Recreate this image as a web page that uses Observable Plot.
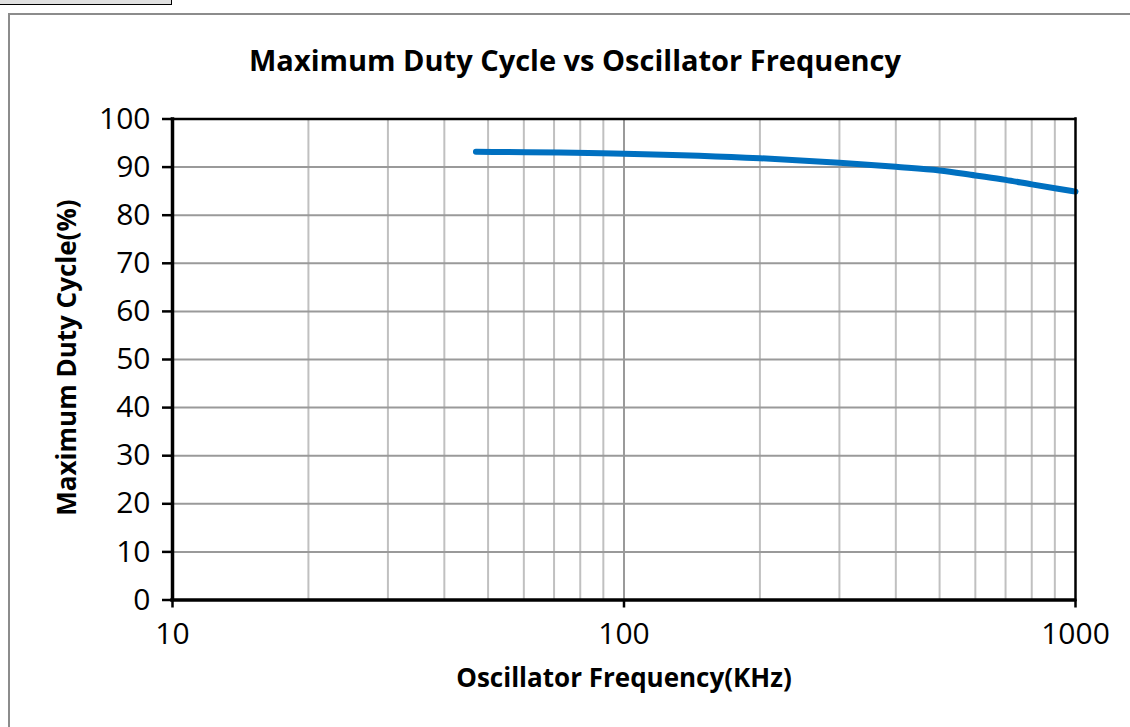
<!DOCTYPE html>
<html>
<head>
<meta charset="utf-8">
<script src="https://cdn.jsdelivr.net/npm/d3@7"></script>
<script src="https://cdn.jsdelivr.net/npm/@observablehq/plot@0.6"></script>
<style>
  html, body { margin: 0; padding: 0; background: #fff; overflow: hidden; }
  #page { position: relative; width: 1130px; height: 727px; overflow: hidden; font-family: "Open Sans", sans-serif; }
  #tab { position: absolute; left: -2px; top: -2px; width: 172px; height: 4.5px; background: #e0e0e0; border: 1.5px solid #000; }
  #frame { position: absolute; left: 8px; top: 12.5px; width: 1140px; height: 740px; border: 2px solid #8c8c8c; box-sizing: border-box; }
  #title { position: absolute; left: 10px; width: 1130px; top: 45px; text-align: center; font-weight: bold; font-size: 29px; line-height: 29px; color: #000; }
  #chart { position: absolute; left: 0; top: 90px; }
</style>
</head>
<body>
<div id="page">
  <div id="tab"></div>
  <div id="frame"></div>
  <div id="title">Maximum Duty Cycle vs Oscillator Frequency</div>
  <div id="chart"></div>
</div>
<script>
const title = "Maximum Duty Cycle vs Oscillator Frequency";
const xLabel = "Oscillator Frequency(KHz)";
const yLabel = "Maximum Duty Cycle(%)";

const freq = [47, 100, 200, 300, 400, 500, 600, 700, 800, 900, 1000];
const duty = [93.2, 92.8, 91.85, 90.9, 90.05, 89.3, 88.25, 87.35, 86.4, 85.6, 84.9];

const xTicks = [10, 100, 1000];
const xMinor = [20, 30, 40, 50, 60, 70, 80, 90, 200, 300, 400, 500, 600, 700, 800, 900];
const yTicks = [0, 10, 20, 30, 40, 50, 60, 70, 80, 90, 100];

const data = freq.map((f, i) => ({f, d: duty[i]}));

const chart = Plot.plot({
  width: 1130,
  height: 637,
  marginTop: 28.5,
  marginLeft: 172,
  marginRight: 55,
  marginBottom: 127.5,
  x: {type: "log", domain: [10, 1000]},
  y: {domain: [0, 100]},
  style: {fontFamily: "Open Sans", fontSize: "30px", color: "#000", background: "transparent", overflow: "visible"},
  marks: [
    Plot.ruleX(xMinor, {stroke: "#c0c0c0", strokeWidth: 2}),
    Plot.ruleX([100], {stroke: "#9a9a9a", strokeWidth: 2}),
    Plot.ruleY(yTicks.slice(1, -1), {stroke: "#9a9a9a", strokeWidth: 2}),
    Plot.line(data, {x: "f", y: "d", stroke: "#0070C0", strokeWidth: 6, strokeLinecap: "round", strokeLinejoin: "round", curve: "monotone-x"}),
    Plot.axisY(yTicks, {tickSize: 10, tickPadding: 12, strokeWidth: 2.5, label: null, tickFormat: d => String(d)}),
    Plot.axisX(xTicks, {tickSize: 8, tickPadding: 14.5, strokeWidth: 2.5, label: null, tickFormat: d => String(d)}),
    Plot.ruleY([100], {stroke: "#000", strokeWidth: 2.5, insetLeft: -1.5, insetRight: -1.25}),
    Plot.ruleX([1000], {stroke: "#000", strokeWidth: 2.5, insetTop: -1.25, insetBottom: -1.5}),
    Plot.ruleX([10], {stroke: "#000", strokeWidth: 3.5, insetTop: -1.25, insetBottom: -1.75}),
    Plot.ruleY([0], {stroke: "#000", strokeWidth: 3.5, insetLeft: -1.75, insetRight: -1.25}),
    Plot.text([yLabel], {frameAnchor: "left", dx: -105, dy: -2, rotate: -90, textAnchor: "middle", lineAnchor: "middle", fontWeight: "bold", fontSize: 26, fill: "#000"}),
    Plot.text([xLabel], {frameAnchor: "bottom", dy: 79, textAnchor: "middle", lineAnchor: "middle", fontWeight: "bold", fontSize: 26, fill: "#000"})
  ]
});
document.getElementById("chart").appendChild(chart);
</script>
</body>
</html>
